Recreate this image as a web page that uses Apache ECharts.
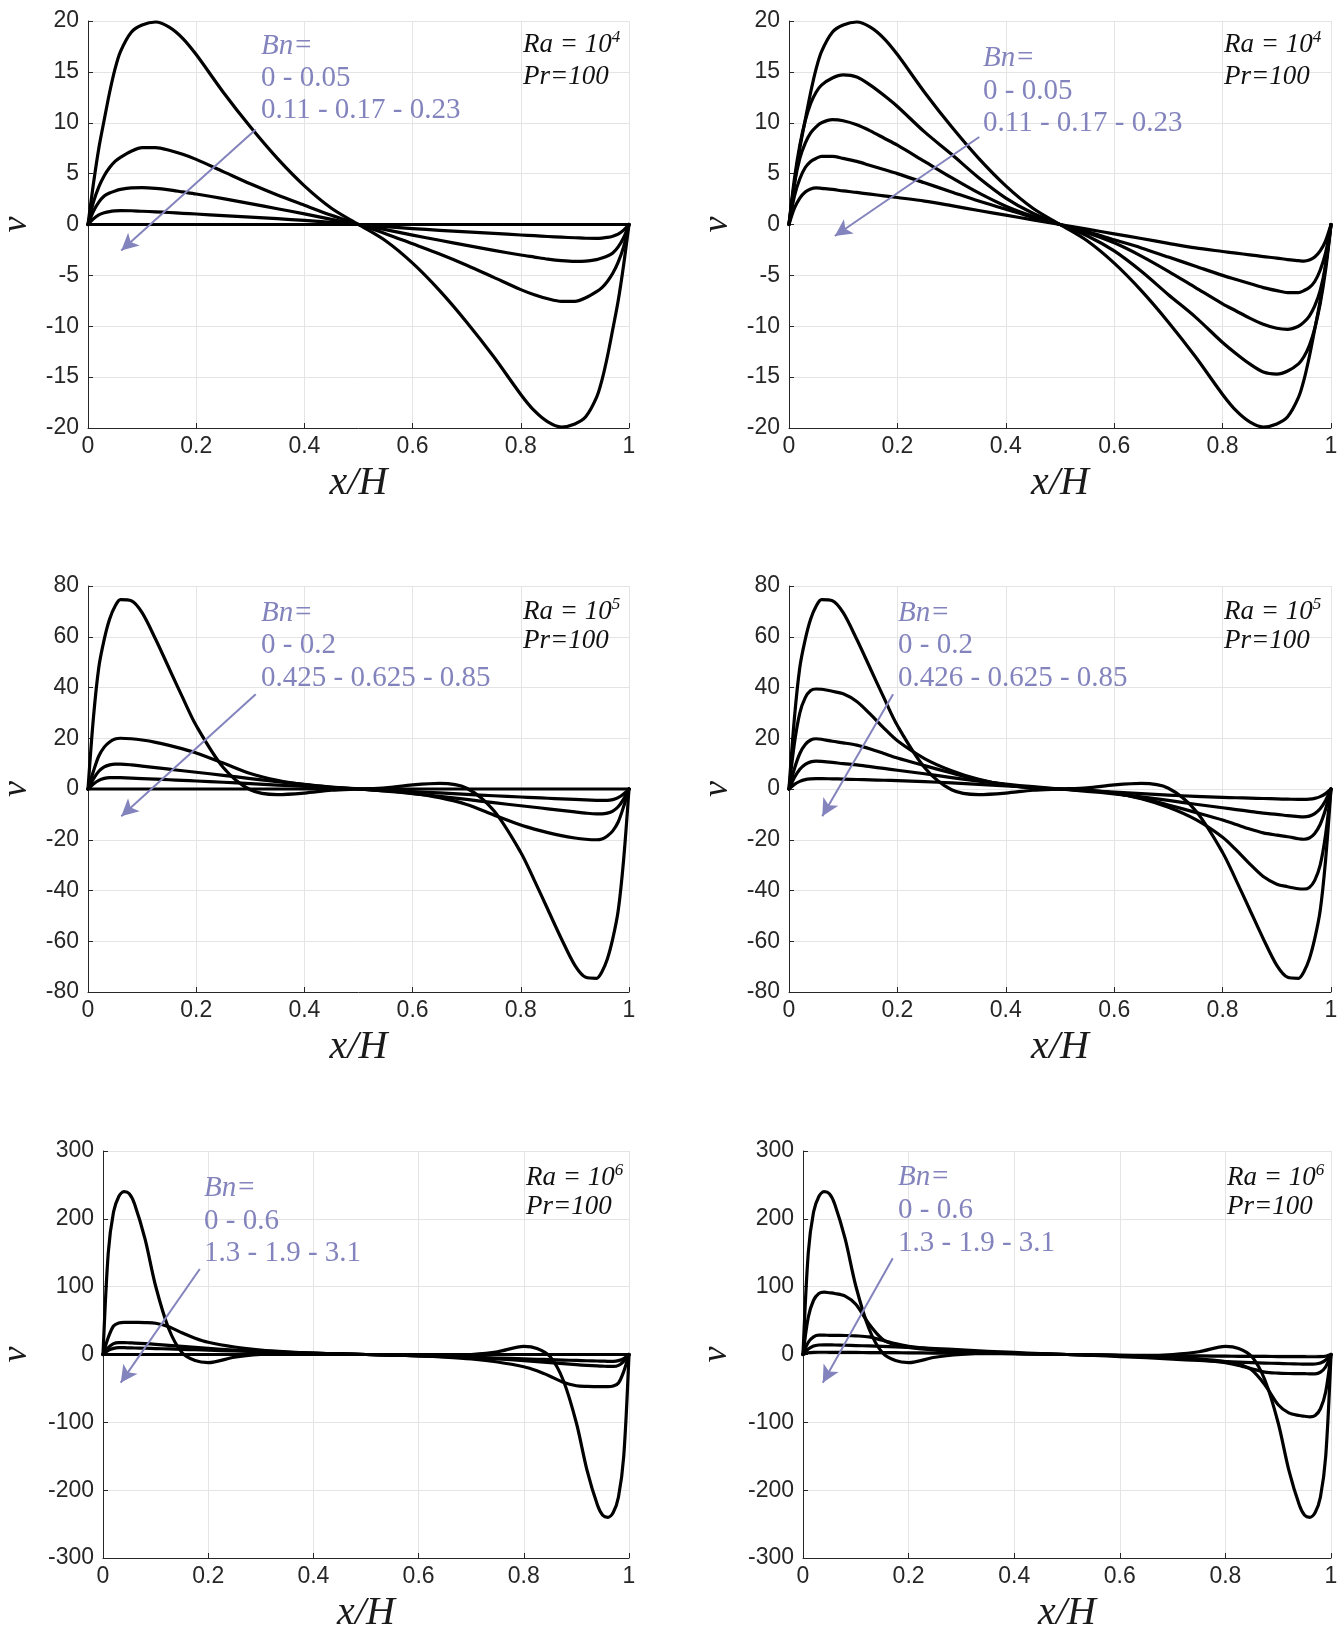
<!DOCTYPE html>
<html><head><meta charset="utf-8">
<script src="https://cdn.jsdelivr.net/npm/echarts@6/dist/echarts.min.js"></script>
<style>html,body{margin:0;padding:0;background:#fff}#c{width:1344px;height:1634px}</style>
</head><body><div id="c"></div><script>
// x/H sample positions
const X = [0,0.01,0.02,0.03,0.04,0.05,0.06,0.08,0.1,0.125,0.15,0.175,0.2,0.25,0.3,0.35,0.4,0.45,0.5,0.55,0.6,0.65,0.7,0.75,0.8,0.825,0.85,0.875,0.9,0.92,0.94,0.95,0.96,0.97,0.98,0.99,1];

// Panel 1: Ra=1e4, Bn = 0, 0.05, 0.11, 0.17, 0.23
const p1_bn000 = [0,4,7.5,10.3,13,15.3,17,18.9,19.6,19.9,19.4,18.3,16.7,13.0,9.6,6.5,3.8,1.6,0,-1.6,-3.8,-6.5,-9.6,-13.0,-16.7,-18.3,-19.4,-19.9,-19.6,-18.9,-17,-15.3,-13,-10.3,-7.5,-4,0];
const p1_bn005 = [0,2.2,3.7,4.8,5.6,6.2,6.6,7.2,7.55,7.55,7.3,6.9,6.4,5.2,4.0,2.9,1.9,0.9,0,-0.9,-1.9,-2.9,-4.0,-5.2,-6.4,-6.9,-7.3,-7.55,-7.55,-7.2,-6.6,-6.2,-5.6,-4.8,-3.7,-2.2,0];
const p1_bn011 = [0,1.3,2.2,2.8,3.1,3.3,3.45,3.6,3.62,3.55,3.4,3.2,3.0,2.55,2.05,1.55,1.05,0.5,0,-0.5,-1.05,-1.55,-2.05,-2.55,-3.0,-3.2,-3.4,-3.55,-3.62,-3.6,-3.45,-3.3,-3.1,-2.8,-2.2,-1.3,0];
const p1_bn017 = [0,0.55,0.95,1.15,1.27,1.33,1.36,1.35,1.3,1.25,1.18,1.1,1.03,0.88,0.73,0.57,0.4,0.2,0,-0.2,-0.4,-0.57,-0.73,-0.88,-1.03,-1.1,-1.18,-1.25,-1.3,-1.35,-1.36,-1.33,-1.27,-1.15,-0.95,-0.55,0];
const p1_bn023 = [0,0,0,0,0,0,0,0,0,0,0,0,0,0,0,0,0,0,0,0,0,0,0,0,0,0,0,0,0,0,0,0,0,0,0,0,0];

// Panel 2: Ra=1e4 (second model)
const p2_bn000 = [0,4,7.5,10.3,13,15.3,17,18.9,19.6,19.9,19.4,18.3,16.7,13.0,9.6,6.5,3.8,1.6,0,-1.6,-3.8,-6.5,-9.6,-13.0,-16.7,-18.3,-19.4,-19.9,-19.6,-18.9,-17,-15.3,-13,-10.3,-7.5,-4,0];
const p2_bn005 = [0,4.5,7.8,10.2,11.9,13.0,13.7,14.4,14.7,14.5,13.7,12.7,11.6,9.1,6.9,4.6,2.6,1.1,0,-1.1,-2.6,-4.6,-6.9,-9.1,-11.6,-12.7,-13.7,-14.5,-14.7,-14.4,-13.7,-13.0,-11.9,-10.2,-7.8,-4.5,0];
const p2_bn011 = [0,4.0,6.5,8.0,9.0,9.6,10.0,10.3,10.2,9.8,9.2,8.5,7.8,6.2,4.6,3.1,1.8,0.8,0,-0.8,-1.8,-3.1,-4.6,-6.2,-7.8,-8.5,-9.2,-9.8,-10.2,-10.3,-10.0,-9.6,-9.0,-8.0,-6.5,-4.0,0];
const p2_bn017 = [0,2.8,4.5,5.6,6.2,6.5,6.7,6.7,6.5,6.2,5.8,5.4,5.0,4.1,3.2,2.3,1.5,0.7,0,-0.7,-1.5,-2.3,-3.2,-4.1,-5.0,-5.4,-5.8,-6.2,-6.5,-6.7,-6.7,-6.5,-6.2,-5.6,-4.5,-2.8,0];
const p2_bn023 = [0,1.6,2.6,3.2,3.5,3.6,3.55,3.45,3.3,3.15,2.98,2.82,2.65,2.3,1.85,1.38,0.92,0.45,0,-0.45,-0.92,-1.38,-1.85,-2.3,-2.65,-2.82,-2.98,-3.15,-3.3,-3.45,-3.55,-3.6,-3.5,-3.2,-2.6,-1.6,0];

// Panel 3: Ra=1e5, Bn = 0, 0.2, 0.425, 0.625, 0.85
const p3_bn000 = [0,28,48,59,67,72,74.6,74.2,69.5,59,47.5,36,25,8.5,-0.3,-2.2,-1.6,-0.5,0,0.5,1.6,2.2,0.3,-8.5,-25,-36,-47.5,-59,-69.5,-74.2,-74.6,-72,-67,-59,-48,-28,0];
const p3_bn020 = [0,7,13,16.5,18.5,19.7,20,19.8,19.3,18.4,17.2,15.8,14.2,10.2,6.1,3.4,1.7,0.7,0,-0.7,-1.7,-3.4,-6.1,-10.2,-14.2,-15.8,-17.2,-18.4,-19.3,-19.8,-20,-19.7,-18.5,-16.5,-13,-7,0];
const p3_bn0425 = [0,4,7,8.7,9.5,9.8,9.8,9.5,9.0,8.4,7.8,7.2,6.6,5.4,4.1,2.9,1.8,0.8,0,-0.8,-1.8,-2.9,-4.1,-5.4,-6.6,-7.2,-7.8,-8.4,-9.0,-9.5,-9.8,-9.8,-9.5,-8.7,-7,-4,0];
const p3_bn0625 = [0,2,3.4,4.2,4.5,4.5,4.45,4.3,4.1,3.9,3.65,3.4,3.15,2.65,2.1,1.55,1.0,0.5,0,-0.5,-1.0,-1.55,-2.1,-2.65,-3.15,-3.4,-3.65,-3.9,-4.1,-4.3,-4.45,-4.5,-4.5,-4.2,-3.4,-2,0];
const p3_bn085 = [0,0,0,0,0,0,0,0,0,0,0,0,0,0,0,0,0,0,0,0,0,0,0,0,0,0,0,0,0,0,0,0,0,0,0,0,0];

// Panel 4: Ra=1e5, Bn = 0, 0.2, 0.426, 0.625, 0.85
const p4_bn000 = [0,28,48,59,67,72,74.6,74.2,69.5,59,47.5,36,25,8.5,-0.3,-2.2,-1.6,-0.5,0,0.5,1.6,2.2,0.3,-8.5,-25,-36,-47.5,-59,-69.5,-74.2,-74.6,-72,-67,-59,-48,-28,0];
const p4_bn020 = [0,18,30,36,38.8,39.4,39.3,38.5,37.5,34.5,29.5,24,19,12,7.2,3.8,1.6,0.5,0,-0.5,-1.6,-3.8,-7.2,-12,-19,-24,-29.5,-34.5,-37.5,-38.5,-39.3,-39.4,-38.8,-36,-30,-18,0];
const p4_bn0426 = [0,8,14,17.5,19.3,19.8,19.6,18.8,18.2,17.3,15.8,14.0,12.2,9.2,6.3,3.6,1.6,0.5,0,-0.5,-1.6,-3.6,-6.3,-9.2,-12.2,-14.0,-15.8,-17.3,-18.2,-18.8,-19.6,-19.8,-19.3,-17.5,-14,-8,0];
const p4_bn0625 = [0,4.5,7.8,9.7,10.7,11,10.9,10.5,10,9.5,8.8,8.1,7.4,6.0,4.5,3.1,1.9,0.9,0,-0.9,-1.9,-3.1,-4.5,-6.0,-7.4,-8.1,-8.8,-9.5,-10,-10.5,-10.9,-11,-10.7,-9.7,-7.8,-4.5,0];
const p4_bn085 = [0,1.8,3.0,3.7,4.0,4.1,4.1,4.0,3.9,3.75,3.6,3.45,3.3,2.9,2.4,1.8,1.2,0.6,0,-0.6,-1.2,-1.8,-2.4,-2.9,-3.3,-3.45,-3.6,-3.75,-3.9,-4.0,-4.1,-4.1,-4.0,-3.7,-3.0,-1.8,0];

// Panel 5: Ra=1e6, Bn = 0, 0.6, 1.3, 1.9, 3.1
const p5_bn00 = [0,150,210,233,240,237,222,170,101,38,3,-9,-12,-4,0,1.5,1.5,0.8,0,-0.8,-1.5,-1.5,0,4,12,9,-3,-38,-101,-170,-222,-237,-240,-233,-210,-150,0];
const p5_bn06 = [0,25,42,46.5,47.5,47.5,47.3,47,46,41,32,24,18,11,6.5,3.8,2,0.9,0,-0.9,-2,-3.8,-6.5,-11,-18,-24,-32,-41,-46,-47,-47.3,-47.5,-47.5,-46.5,-42,-25,0];
const p5_bn13 = [0,10,16,17.5,17.5,17.2,16.8,16,15,13.5,12,10.5,9,6.5,4.5,3,1.8,0.8,0,-0.8,-1.8,-3,-4.5,-6.5,-9,-10.5,-12,-13.5,-15,-16,-16.8,-17.2,-17.5,-17.5,-16,-10,0];
const p5_bn19 = [0,6,9,10,10,9.8,9.6,9.2,8.8,8.2,7.6,7.0,6.4,5.2,4.0,2.9,1.9,0.9,0,-0.9,-1.9,-2.9,-4.0,-5.2,-6.4,-7.0,-7.6,-8.2,-8.8,-9.2,-9.6,-9.8,-10,-10,-9,-6,0];
const p5_bn31 = [0,0,0,0,0,0,0,0,0,0,0,0,0,0,0,0,0,0,0,0,0,0,0,0,0,0,0,0,0,0,0,0,0,0,0,0,0];

// Panel 6: Ra=1e6 (second model)
const p6_bn00 = [0,150,210,233,240,237,222,170,101,38,3,-9,-12,-4,0,1.5,1.5,0.8,0,-0.8,-1.5,-1.5,0,4,12,9,-3,-38,-101,-170,-222,-237,-240,-233,-210,-150,0];
const p6_bn06 = [0,55,80,90,92,91,90,86,74,45,23,14,10.5,6.5,4,2.5,1.5,0.7,0,-0.7,-1.5,-2.5,-4,-6.5,-10.5,-14,-23,-45,-74,-86,-90,-91,-92,-90,-80,-55,0];
const p6_bn13 = [0,18,26,28.5,28.5,28.3,28.2,28,27.5,26,21,16,12,7.5,4.8,3,1.8,0.8,0,-0.8,-1.8,-3,-4.8,-7.5,-12,-16,-21,-26,-27.5,-28,-28.2,-28.3,-28.5,-28.5,-26,-18,0];
const p6_bn19 = [0,8,12.5,14,14.3,14.2,14,13.6,13.2,12.6,12,11.3,10.6,8.8,6.8,4.8,3,1.4,0,-1.4,-3,-4.8,-6.8,-8.8,-10.6,-11.3,-12,-12.6,-13.2,-13.6,-14,-14.2,-14.3,-14,-12.5,-8,0];
const p6_bn31 = [0,2.5,3.2,3.3,3.3,3.25,3.2,3.1,3.0,2.9,2.8,2.65,2.5,2.1,1.7,1.3,0.9,0.45,0,-0.45,-0.9,-1.3,-1.7,-2.1,-2.5,-2.65,-2.8,-2.9,-3.0,-3.1,-3.2,-3.25,-3.3,-3.3,-3.2,-2.5,0];

// Annotation texts
const bnLabels = [
  ['0 - 0.05', '0.11 - 0.17 - 0.23'],
  ['0 - 0.05', '0.11 - 0.17 - 0.23'],
  ['0 - 0.2', '0.425 - 0.625 - 0.85'],
  ['0 - 0.2', '0.426 - 0.625 - 0.85'],
  ['0 - 0.6', '1.3 - 1.9 - 3.1'],
  ['0 - 0.6', '1.3 - 1.9 - 3.1']
];
const raExponents = ['4', '4', '5', '5', '6', '6'];
const yTicks = [[-20, 20, 5], [-20, 20, 5], [-80, 80, 20], [-80, 80, 20], [-300, 300, 100], [-300, 300, 100]];
// Arrow (start, end) in data coordinates
const arrows = [
  [[0.31, 9.33], [0.0615, -2.56]],
  [[0.351, 8.6], [0.0845, -1.13]],
  [[0.31, 37.3], [0.0615, -10.7]],
  [[0.192, 37.3], [0.0614, -10.7]],
  [[0.184, 126], [0.0337, -41.5]],
  [[0.17, 142], [0.0375, -41.5]]
];

const panelSeries = [
  [p1_bn000, p1_bn005, p1_bn011, p1_bn017, p1_bn023],
  [p2_bn000, p2_bn005, p2_bn011, p2_bn017, p2_bn023],
  [p3_bn000, p3_bn020, p3_bn0425, p3_bn0625, p3_bn085],
  [p4_bn000, p4_bn020, p4_bn0426, p4_bn0625, p4_bn085],
  [p5_bn00, p5_bn06, p5_bn13, p5_bn19, p5_bn31],
  [p6_bn00, p6_bn06, p6_bn13, p6_bn19, p6_bn31]
];

// Layout (pixels)
const layout = [
  {grid: {left: 88, top: 21, width: 541, height: 407}, yGap: 53, bn: [261, [46, 78, 110]], ra: [523, [45, 77]]},
  {grid: {left: 789, top: 21, width: 542, height: 407}, yGap: 53, bn: [983, [58, 91, 123]], ra: [1224, [45, 77]]},
  {grid: {left: 88, top: 586, width: 541, height: 406}, yGap: 53, bn: [261, [613, 645, 678]], ra: [523, [612, 641]]},
  {grid: {left: 789, top: 586, width: 542, height: 406}, yGap: 53, bn: [898, [613, 645, 678]], ra: [1224, [612, 641]]},
  {grid: {left: 103, top: 1151, width: 526, height: 407}, yGap: 68, bn: [204, [1188, 1221, 1253]], ra: [526, [1178, 1207]]},
  {grid: {left: 803, top: 1151, width: 528, height: 407}, yGap: 68, bn: [898, [1177, 1210, 1243]], ra: [1227, [1178, 1207]]}
];

const PURPLE = '#8383bd';
const AXIS = '#262626';
const option = {animation: false, backgroundColor: '#ffffff', grid: [], xAxis: [], yAxis: [], series: [], graphic: []};

layout.forEach((L, i) => {
  option.grid.push(Object.assign({containLabel: false, outerBoundsMode: 'none'}, L.grid));
  option.xAxis.push({
    type: 'value', gridIndex: i, min: 0, max: 1, interval: 0.2,
    name: 'x/H', nameLocation: 'middle', nameGap: 35, nameMoveOverlap: false,
    nameTextStyle: {fontFamily: 'Liberation Serif', fontStyle: 'italic', fontSize: 40, color: '#1a1a1a'},
    axisLine: {show: true, onZero: false, lineStyle: {color: AXIS, width: 1}},
    axisTick: {show: true, inside: true, length: 5, lineStyle: {color: AXIS, width: 1}},
    axisLabel: {fontFamily: 'Liberation Sans', fontSize: 23, color: AXIS, margin: 7},
    splitLine: {show: true, lineStyle: {color: '#e4e4e4', width: 1}}
  });
  const yt = yTicks[i];
  option.yAxis.push({
    type: 'value', gridIndex: i, min: yt[0], max: yt[1], interval: yt[2],
    name: 'v', nameLocation: 'middle', nameGap: L.yGap, nameRotate: 90, nameMoveOverlap: false,
    nameTextStyle: {fontFamily: 'Liberation Serif', fontStyle: 'italic', fontSize: 36, color: '#1a1a1a'},
    axisLine: {show: true, onZero: false, lineStyle: {color: AXIS, width: 1}},
    axisTick: {show: true, inside: true, length: 5, lineStyle: {color: AXIS, width: 1}},
    axisLabel: {fontFamily: 'Liberation Sans', fontSize: 23, color: AXIS, margin: 9},
    splitLine: {show: true, lineStyle: {color: '#e4e4e4', width: 1}}
  });
  panelSeries[i].forEach((vals, k) => {
    if (vals.length !== X.length) console.error('length mismatch panel', i + 1, 'series', k, vals.length);
    const s = {
      type: 'line', xAxisIndex: i, yAxisIndex: i, silent: true, z: 3,
      data: X.map((x, j) => [x, vals[j]]),
      symbol: 'none', showSymbol: false, smooth: 0.3,
      lineStyle: {color: '#000000', width: 3.2, join: 'round', cap: 'round'}
    };
    if (k === 0) {
      s.markLine = {
        silent: true, animation: false, symbol: ['none', 'arrow'], symbolSize: [13, 17],
        lineStyle: {color: PURPLE, width: 2, type: 'solid'},
        itemStyle: {color: PURPLE},
        label: {show: false}, emphasis: {disabled: true},
        data: [[{coord: arrows[i][0]}, {coord: arrows[i][1]}]]
      };
    }
    option.series.push(s);
  });
  // Bn annotation
  const bnLines = ['Bn='].concat(bnLabels[i]);
  bnLines.forEach((t, k) => {
    option.graphic.push({
      type: 'text', x: L.bn[0], y: L.bn[1][k], silent: true, z: 20,
      style: {text: t, fill: PURPLE,
        font: (k === 0 ? 'italic ' : '') + '29px "Liberation Serif"',
        align: 'left', verticalAlign: 'middle', textAlign: 'left', textVerticalAlign: 'middle'}
    });
  });
  // Ra / Pr annotation
  option.graphic.push({
    type: 'text', x: L.ra[0], y: L.ra[1][0], silent: true, z: 20,
    style: {
      text: '{m|Ra = 10}{s|' + raExponents[i] + '}',
      align: 'left', verticalAlign: 'middle', textAlign: 'left', textVerticalAlign: 'middle',
      rich: {
        m: {font: 'italic 27px "Liberation Serif"', fill: '#111', color: '#111', lineHeight: 32},
        s: {font: 'italic 17px "Liberation Serif"', fill: '#111', color: '#111', lineHeight: 12, verticalAlign: 'top'}
      }
    }
  });
  option.graphic.push({
    type: 'text', x: L.ra[0], y: L.ra[1][1], silent: true, z: 20,
    style: {text: 'Pr=100', fill: '#111', font: 'italic 27px "Liberation Serif"',
      align: 'left', verticalAlign: 'middle', textAlign: 'left', textVerticalAlign: 'middle'}
  });
});

const chart = echarts.init(document.getElementById('c'), null, {renderer: 'canvas', width: 1344, height: 1634});
chart.setOption(option);
</script></body></html>
